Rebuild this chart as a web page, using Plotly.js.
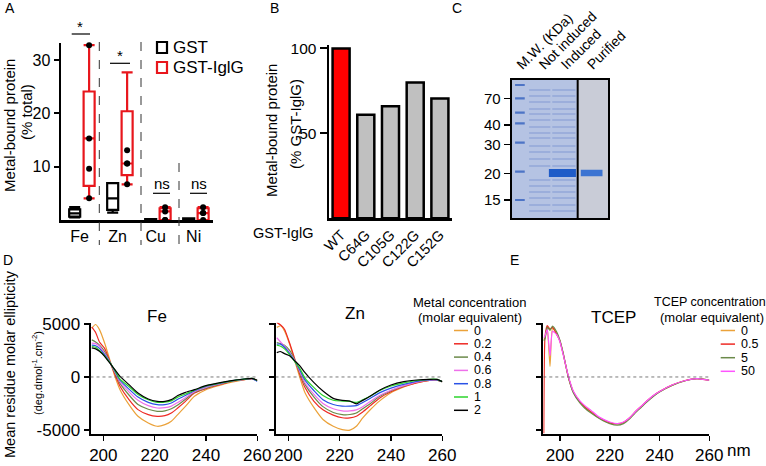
<!DOCTYPE html>
<html><head><meta charset="utf-8">
<script src="https://cdn.plot.ly/plotly-3.0.1.min.js"></script>
<style>html,body{margin:0;padding:0;background:#fff}#chart{width:766px;height:466px}</style>
</head><body><div id="chart"></div>
<script>
// ---------------- Panel A : metal-bound protein (% total) ----------------
const metals = ['Fe', 'Zn', 'Cu', 'Ni'];
const gstQ1     = [0.63, 1.9, 0.05, 0.1];
const gstMedian = [1.25, 4.07, 0.1, 0.2];
const gstQ3     = [2.0, 6.9, 0.15, 0.3];
const gstLow    = [0.5, 1.4, 0.05, 0.1];
const gstHigh   = [2.4, 6.9, 0.15, 0.3];
const iglQ1     = [6.4, 8.4, 0, 0];
const iglMedian = [15.3, 10.6, 1.6, 1.3];
const iglQ3     = [24.1, 20.4, 2.2, 2.2];
const iglLow    = [4.07, 6.7, 0, 0];
const iglHigh   = [32.8, 27.7, 2.4, 2.4];
const feDots = [4.07, 9.6, 15.3, 32.8];
const znDots = [6.7, 10.6, 10.6, 13.1];
const cuDots = [0, 0, 1.6, 2.4];
const niDots = [0, 1.3, 1.3, 2.4];

// ---------------- Panel B : cysteine mutants ----------------
const mutants = ['WT', 'C64G', 'C105G', 'C122G', 'C152G'];
const mutantValues = [100, 61, 66, 80, 70.5];

// ---------------- Panel C : gel ----------------
const mwLabels = ['70', '40', '30', '20', '15'];
const mwMigration = [18.3, 45, 64.3, 93.3, 120];
const ladderMigration = [5, 18.3, 32.7, 43.3, 62.7, 91.7, 120];
const laneNames = ['M.W. (KDa)', 'Not induced', 'Induced', 'Purified'];
const lysateBands = [10, 16, 22, 29, 34, 40, 47, 53, 58, 66, 72, 79, 86, 100, 106, 112, 118, 125, 131];
const gstIglgMigration = 93;

// ---------------- Panels D/E : CD spectra ----------------
const cdNm = [195.5, 197, 198.5, 200.5, 202.5, 204.5, 206.5, 210, 213.5, 217.5, 221, 224, 226.5, 229, 232, 235.5, 240, 245, 250, 255, 258, 260];
const metalLevels = ['0', '0.2', '0.4', '0.6', '0.8', '1', '2'];
const fe0  = [4600, 4950, 4470, 3200, 1640, 60, -1200, -2610, -3710, -4340, -4650, -4500, -4180, -3550, -2770, -1820, -1200, -820, -500, -250, -150, -320];
const fe02 = [4700, 4200, 3300, 2700, 1500, 250, -880, -2140, -3080, -3550, -3710, -3650, -3400, -2925, -2300, -1510, -1100, -755, -410, -250, -180, -330];
const fe04 = [3500, 3300, 3000, 2400, 1450, 400, -600, -1700, -2600, -3050, -3240, -3200, -3000, -2650, -2100, -1450, -1050, -700, -400, -230, -170, -320];
const fe06 = [3200, 3150, 2900, 2200, 1420, 480, -450, -1400, -2200, -2700, -2925, -2900, -2750, -2400, -1950, -1380, -980, -670, -380, -220, -160, -330];
const fe08 = [3000, 2950, 2700, 2100, 1400, 550, -300, -1150, -1900, -2400, -2610, -2600, -2450, -2100, -1750, -1300, -900, -620, -370, -210, -150, -420];
const fe1  = [2900, 2800, 2500, 2000, 1380, 620, -200, -900, -1650, -2150, -2390, -2380, -2250, -1900, -1600, -1250, -850, -600, -360, -200, -140, -330];
const fe2  = [2740, 2650, 2420, 1950, 1320, 690, 60, -720, -1510, -2075, -2300, -2300, -2140, -1750, -1450, -1195, -820, -565, -350, -190, -130, -320];
const zn0  = [4680, 4830, 4350, 3100, 1520, -60, -1490, -2900, -4010, -4650, -4960, -5020, -4650, -3860, -3070, -2275, -1485, -950, -540, -316, -300, -440];
const zn02 = [5150, 4900, 4500, 3200, 1700, 200, -1000, -2300, -3100, -3600, -3850, -3850, -3700, -3300, -2700, -2000, -1400, -900, -550, -330, -300, -440];
const zn04 = [3250, 3150, 3000, 2500, 1600, 400, -700, -1900, -2800, -3350, -3550, -3540, -3400, -3000, -2500, -1850, -1300, -850, -500, -310, -290, -440];
const zn06 = [3700, 3300, 2900, 2300, 1550, 500, -550, -1650, -2500, -3000, -3200, -3200, -3100, -2800, -2300, -1750, -1250, -820, -480, -300, -280, -440];
const zn08 = [3100, 3100, 2800, 2200, 1500, 650, -300, -1300, -2150, -2600, -2750, -2750, -2700, -2400, -2000, -1500, -1050, -700, -420, -280, -270, -440];
const zn1  = [3000, 2900, 2650, 2100, 1450, 800, -100, -1000, -1750, -2200, -2275, -2300, -2400, -2150, -1800, -1300, -850, -550, -330, -220, -230, -440];
const zn2  = [2300, 2400, 2200, 2000, 1520, 1040, 410, -540, -1330, -2020, -2210, -2275, -2530, -2210, -1800, -1260, -760, -440, -285, -220, -230, -440];
const tcepNm = [193.5, 194, 194.9, 196, 197, 198.7, 200, 201.3, 203.4, 205.4, 208, 210, 212.5, 215, 217.5, 220, 223, 225.5, 228, 230, 232.5, 235, 237.5, 240, 245, 250, 255, 260];
const tcepLevels = ['0', '0.5', '5', '50'];
const tcep0  = [3500, 3750, 4600, 1000, 4600, 4100, 3350, 2200, 0, -1400, -2300, -2800, -3300, -3750, -4050, -4300, -4420, -4300, -3900, -3400, -2850, -2300, -1800, -1400, -790, -370, -160, -300];
const tcep05 = [-5300, 3800, 4840, 4500, 4700, 4000, 3400, 2150, -50, -1450, -2350, -2850, -3300, -3750, -4080, -4350, -4400, -4300, -3850, -3350, -2800, -2250, -1780, -1380, -770, -360, -150, -300];
const tcep5  = [3400, 3600, 4700, 4400, 4800, 4250, 3450, 2250, -50, -1500, -2450, -2950, -3400, -3800, -4150, -4400, -4550, -4400, -3950, -3450, -2900, -2350, -1850, -1420, -800, -380, -160, -300];
const tcep50 = [3700, 3900, 4500, 2000, 4300, 4000, 3300, 2100, 50, -1350, -2250, -2700, -3150, -3650, -4000, -4250, -4400, -4250, -3850, -3350, -2800, -2250, -1750, -1370, -760, -360, -150, -300];

// ---------------- styles ----------------
const FONT = 'Liberation Sans, Arial, Helvetica, sans-serif';
const RED = '#e8161c';
const metalColors = ['#eba23a', '#ee2a24', '#6b8a4a', '#ee70ea', '#2a52e6', '#2cd42c', '#000000'];
const tcepColors = ['#eba23a', '#ee2a24', '#6b8a4a', '#ff55ff'];
const W = 766, H = 466;
const xdom = (a, b) => [a / W, b / W];
const ydom = (top, bottom) => [1 - bottom / H, 1 - top / H];
const px = v => v / W, py = v => 1 - v / H;

const traces = [];
// Panel A boxes
traces.push({type: 'box', xaxis: 'x', yaxis: 'y', x: metals.map((m, i) => i - 0.19),
  q1: gstQ1, median: gstMedian, q3: gstQ3, lowerfence: gstLow, upperfence: gstHigh,
  width: 0.29, whiskerwidth: 1, line: {color: '#000', width: 2.2}, fillcolor: 'rgba(255,255,255,0)',
  boxpoints: false, showlegend: false});
traces.push({type: 'box', xaxis: 'x', yaxis: 'y', x: metals.map((m, i) => i + 0.19),
  q1: iglQ1, median: iglMedian, q3: iglQ3, lowerfence: iglLow, upperfence: iglHigh,
  width: 0.29, whiskerwidth: 1, line: {color: RED, width: 2.2}, fillcolor: 'rgba(255,255,255,0)',
  boxpoints: false, showlegend: false});
const dotSets = [feDots, znDots, cuDots, niDots];
const dx = [], dy = [];
dotSets.forEach((arr, i) => arr.forEach(v => { dx.push(i + 0.19); dy.push(v); }));
traces.push({type: 'scatter', mode: 'markers', xaxis: 'x', yaxis: 'y', x: dx, y: dy,
  marker: {color: '#000', size: 6}, cliponaxis: false, showlegend: false});

// Panel B bars
traces.push({type: 'bar', xaxis: 'x2', yaxis: 'y2', x: mutants, y: mutantValues,
  marker: {color: mutants.map(m => m === 'WT' ? '#ff0000' : '#c0c0c0'), line: {color: '#000', width: 2.5}},
  showlegend: false});

// Panel C gel bands
const ladX = [], ladY = [];
ladderMigration.forEach(m => { ladX.push(3.5, 13.5, null); ladY.push(m, m, null); });
traces.push({type: 'scatter', mode: 'lines', xaxis: 'x3', yaxis: 'y3', x: ladX, y: ladY,
  line: {color: '#4d74c6', width: 2.2}, showlegend: false});
const lysX = [], lysY = [];
lysateBands.forEach(m => { lysX.push(18, 40, null, 42, 66, null); lysY.push(m, m, null, m, m, null); });
traces.push({type: 'scatter', mode: 'lines', xaxis: 'x3', yaxis: 'y3', x: lysX, y: lysY,
  line: {color: '#8ea4d8', width: 1.6}, opacity: 0.8, showlegend: false});
traces.push({type: 'scatter', mode: 'lines', xaxis: 'x3', yaxis: 'y3', x: [38.5, 66.5], y: [gstIglgMigration, gstIglgMigration],
  line: {color: '#1f5cc8', width: 8}, showlegend: false});
traces.push({type: 'scatter', mode: 'lines', xaxis: 'x3', yaxis: 'y3', x: [71.5, 94], y: [gstIglgMigration, gstIglgMigration],
  line: {color: '#3c74d2', width: 6.5}, showlegend: false});

// Panels D/E spectra
const feSeries = [fe0, fe02, fe04, fe06, fe08, fe1, fe2];
const znSeries = [zn0, zn02, zn04, zn06, zn08, zn1, zn2];
const tcepSeries = [tcep0, tcep05, tcep5, tcep50];
feSeries.forEach((s, i) => traces.push({type: 'scatter', mode: 'lines', xaxis: 'x4', yaxis: 'y4', x: cdNm, y: s,
  line: {color: metalColors[i], width: 1.2, shape: 'spline', smoothing: 0.6}, showlegend: false}));
znSeries.forEach((s, i) => traces.push({type: 'scatter', mode: 'lines', xaxis: 'x5', yaxis: 'y5', x: cdNm, y: s,
  line: {color: metalColors[i], width: 1.2, shape: 'spline', smoothing: 0.6}, showlegend: false}));
tcepSeries.forEach((s, i) => traces.push({type: 'scatter', mode: 'lines', xaxis: 'x6', yaxis: 'y6', x: tcepNm, y: s,
  line: {color: tcepColors[i], width: 1.2, shape: 'spline', smoothing: 0.5}, showlegend: false}));

// ---------------- axes ----------------
const axBase = {showgrid: false, zeroline: false, showline: true, linecolor: '#000', fixedrange: true,
  tickfont: {family: FONT, size: 16, color: '#000'}, tickcolor: '#000'};
const cdX = Object.assign({}, axBase, {tickvals: [200, 220, 240, 260], ticks: 'outside', ticklen: 5, tickwidth: 1.5, linewidth: 2,
  tickfont: {family: FONT, size: 17, color: '#000'}});
const cdY = Object.assign({}, axBase, {range: [-5380, 5120], tickvals: [-5000, 0, 5000], ticktext: ['-5000', '0', '5000'],
  ticks: 'outside', ticklen: 5, tickwidth: 1.5, linewidth: 2, tickfont: {family: FONT, size: 17, color: '#000'}});

const layout = {
  width: W, height: H, margin: {l: 0, r: 0, t: 0, b: 0}, paper_bgcolor: '#fff', plot_bgcolor: 'rgba(0,0,0,0)',
  showlegend: false, hovermode: false, bargap: 0.31, font: {family: FONT, color: '#000'},
  xaxis: Object.assign({}, axBase, {domain: xdom(61, 213), range: [-0.55, 3.45], anchor: 'y',
    tickvals: metals.map((m, i) => i - 0.06), ticktext: metals, ticks: '', linewidth: 2.5}),
  yaxis: Object.assign({}, axBase, {domain: ydom(43, 220), range: [0, 33.2], anchor: 'x',
    tickvals: [10, 20, 30], ticks: 'outside', ticklen: 5, tickwidth: 2, linewidth: 2.5}),
  xaxis2: Object.assign({}, axBase, {domain: xdom(329, 452), range: [-0.49, 4.49], anchor: 'y2', type: 'category',
    ticks: '', tickangle: -45, linewidth: 2.5, tickfont: {family: FONT, size: 14.5, color: '#000'}}),
  yaxis2: Object.assign({}, axBase, {domain: ydom(45, 218.3), range: [0, 102], anchor: 'x2',
    tickvals: [50, 100], ticks: 'outside', ticklen: 7, tickwidth: 2, linewidth: 2.5,
    tickfont: {family: FONT, size: 15.5, color: '#000'}}),
  xaxis3: Object.assign({}, axBase, {domain: xdom(511.7, 608.3), range: [0, 100], anchor: 'y3', side: 'top',
    tickvals: [6, 29, 52, 79], ticktext: laneNames, tickangle: -45, ticks: '', mirror: true, linewidth: 2,
    tickfont: {family: FONT, size: 14, color: '#000'}}),
  yaxis3: Object.assign({}, axBase, {domain: ydom(80, 218), range: [138, 0], anchor: 'x3',
    tickvals: mwMigration, ticktext: mwLabels, ticks: 'outside', ticklen: 6, tickwidth: 1.5, mirror: true, linewidth: 2,
    tickfont: {family: FONT, size: 15, color: '#000'}}),
  xaxis4: Object.assign({}, cdX, {domain: xdom(90.5, 257.3), range: [195, 260], anchor: 'y4'}),
  yaxis4: Object.assign({}, cdY, {domain: ydom(322.7, 434), anchor: 'x4'}),
  xaxis5: Object.assign({}, cdX, {domain: xdom(275.5, 442.3), range: [195, 260], anchor: 'y5'}),
  yaxis5: Object.assign({}, cdY, {domain: ydom(322.7, 434), anchor: 'x5', showticklabels: false}),
  xaxis6: Object.assign({}, cdX, {domain: xdom(543.3, 709.3), range: [193.3, 260], anchor: 'y6'}),
  yaxis6: Object.assign({}, cdY, {domain: ydom(322.7, 434), anchor: 'x6', showticklabels: false}),
  shapes: [], annotations: []
};

const S = layout.shapes, A = layout.annotations;
const pline = (x0, y0, x1, y1, color, width, dash) => S.push({type: 'line', xref: 'paper', yref: 'paper',
  x0: px(x0), x1: px(x1), y0: py(y0), y1: py(y1), line: {color: color, width: width, dash: dash || 'solid'}});
const note = (x, y, text, size, opts) => A.push(Object.assign({xref: 'paper', yref: 'paper', x: px(x), y: py(y),
  text: text, showarrow: false, font: {family: FONT, size: size, color: '#000'}, xanchor: 'center', yanchor: 'middle'}, opts || {}));

// Panel A decorations
pline(99.3, 42, 99.3, 245, '#333', 1, 'dash');
pline(141, 42, 141, 245, '#333', 1, 'dash');
pline(179, 163, 179, 245, '#333', 1, 'dash');
pline(71.7, 34, 90, 34, '#000', 1.2);
pline(110, 63.3, 130, 63.3, '#000', 1.2);
pline(153, 193.3, 170, 193.3, '#000', 1.2);
pline(190, 193.3, 207, 193.3, '#000', 1.2);
note(80, 27, '*', 15); note(120, 56, '*', 15);
note(161.7, 183, 'ns', 15); note(199, 183, 'ns', 15);
S.push({type: 'rect', xref: 'paper', yref: 'paper', x0: px(157), x1: px(167), y0: py(42), y1: py(53), line: {color: '#000', width: 2.2}});
S.push({type: 'rect', xref: 'paper', yref: 'paper', x0: px(157), x1: px(167), y0: py(62), y1: py(73), line: {color: RED, width: 2.2}});
note(171, 47.5, 'GST', 17, {xanchor: 'left'});
note(171, 67.5, 'GST-IglG', 17, {xanchor: 'left'});
note(9, 126, 'Metal-bound protein', 15, {textangle: -90});
note(27, 112, '(% total)', 15, {textangle: -90});

// Panel B decorations
note(271, 131, 'Metal-bound protein', 15, {textangle: -90});
note(295, 124, '(% GST-IglG)', 15, {textangle: -90});
note(283, 233, 'GST-IglG', 14.5);

// Panel C gel background
S.push({type: 'rect', xref: 'x3', yref: 'y3', x0: 0, x1: 68.3, y0: 0, y1: 138, layer: 'below', line: {width: 0}, fillcolor: '#b5c3e3'});
S.push({type: 'rect', xref: 'x3', yref: 'y3', x0: 68.3, x1: 100, y0: 0, y1: 138, layer: 'below', line: {width: 0}, fillcolor: '#c9ccd7'});
S.push({type: 'line', xref: 'x3', yref: 'y3', x0: 68.3, x1: 68.3, y0: 0, y1: 138, line: {color: '#000', width: 2}});

// CD zero lines
[['x4', 'y4', 195], ['x5', 'y5', 195], ['x6', 'y6', 193.3]].forEach(r => S.push({type: 'line', xref: r[0], yref: r[1],
  x0: r[2], x1: 260, y0: 0, y1: 0, line: {color: '#555', width: 0.8, dash: 'dot'}}));

// CD texts
note(156.7, 316, 'Fe', 17); note(355, 313, 'Zn', 17); note(613, 317, 'TCEP', 17);
note(10, 364, 'Mean residue molar ellipticity', 14.5, {textangle: -90});
note(37, 373, '(deg.dmol<sup>-1</sup>.cm<sup>-2</sup>)', 11, {textangle: -90});
note(470, 302, 'Metal concentration', 13); note(470, 317, '(molar equivalent)', 13);
note(710, 302, 'TCEP concentration', 12.5); note(712, 317, '(molar equivalent)', 13);
metalLevels.forEach((lv, i) => { const y = 330.5 + 13.3 * i; pline(454, y, 468, y, metalColors[i], 1.5); note(472, y, lv, 12.5, {xanchor: 'left'}); });
tcepLevels.forEach((lv, i) => { const y = 330.5 + 13.6 * i; pline(720.7, y, 735, y, tcepColors[i], 1.5); note(739, y, lv, 12.5, {xanchor: 'left'}); });
note(739, 450, 'nm', 17);

// Panel letters
note(10, 8, 'A', 14); note(274, 8, 'B', 14); note(457, 8, 'C', 14); note(8, 260, 'D', 14); note(514, 260, 'E', 14);

Plotly.newPlot('chart', traces, layout, {staticPlot: true, displayModeBar: false});
</script></body></html>
